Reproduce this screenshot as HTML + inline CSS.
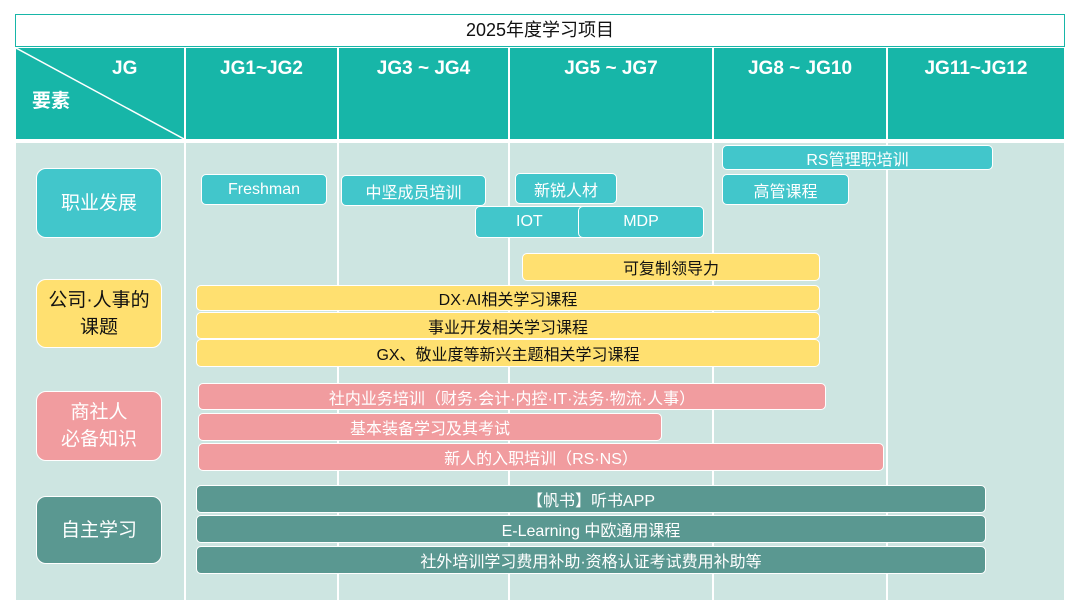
<!DOCTYPE html>
<html><head><meta charset="utf-8"><style>
*{margin:0;padding:0;box-sizing:border-box}
body{width:1075px;height:609px;background:#fff;position:relative;overflow:hidden;font-family:"Liberation Sans","Noto Sans CJK SC",sans-serif}
.a{position:absolute}
.b{position:absolute;display:flex;align-items:center;justify-content:center;border:1px solid #fff;border-radius:5px;font-size:16px;white-space:nowrap}
.t{background:#42c6cb;color:#fff}
.y{background:#ffe070;color:#111}
.p{background:#f19c9f;color:#fff}
.d{background:#5a9891;color:#fff}
.h{position:absolute;top:48px;height:91px;background:#17b6a8;color:#fff;font-weight:bold;font-size:19px;text-align:center;padding-top:10px}
.c{position:absolute;top:143px;height:457px;background:#cde5e1}
.lb{border-radius:10px;font-size:19px;text-align:center;white-space:normal;line-height:27px}
</style></head><body>
<div class="a" style="left:15px;top:14px;width:1050px;height:33px;border:1.5px solid #17b6a8;text-align:center;font-size:18px;line-height:31px;color:#111">2025年度学习项目</div>
<div class="h" style="left:16px;width:168px;padding:0"><svg class="a" style="left:0;top:0" width="168" height="91"><line x1="0" y1="0" x2="168" y2="91" stroke="#fff" stroke-width="1.5"/></svg><span class="a" style="left:96px;top:10px">JG</span><span class="a" style="left:16px;top:38px">要素</span></div>
<div class="h" style="left:186px;width:151px">JG1~JG2</div>
<div class="h" style="left:339px;width:169px">JG3 ~ JG4</div>
<div class="h" style="left:510px;width:202px">JG5 ~ JG7</div>
<div class="h" style="left:714px;width:172px">JG8 ~ JG10</div>
<div class="h" style="left:888px;width:176px">JG11~JG12</div>
<div class="c" style="left:16px;width:168px"></div>
<div class="c" style="left:186px;width:151px"></div>
<div class="c" style="left:339px;width:169px"></div>
<div class="c" style="left:510px;width:202px"></div>
<div class="c" style="left:714px;width:172px"></div>
<div class="c" style="left:888px;width:176px"></div>

<div class="b t lb" style="left:36px;top:168px;width:126px;height:70px">职业发展</div>
<div class="b y lb" style="left:36px;top:279px;width:126px;height:69px;color:#111">公司·人事的<br>课题</div>
<div class="b p lb" style="left:36px;top:391px;width:126px;height:70px">商社人<br>必备知识</div>
<div class="b d lb" style="left:36px;top:496px;width:126px;height:68px">自主学习</div>

<div class="b t" style="left:201px;top:174px;width:126px;height:31px">Freshman</div>
<div class="b t" style="left:341px;top:175px;width:145px;height:31px">中坚成员培训</div>
<div class="b t" style="left:515px;top:173px;width:102px;height:31px">新锐人材</div>
<div class="b t" style="left:475px;top:206px;width:116px;height:32px;justify-content:flex-start;padding-left:40px">IOT</div>
<div class="b t" style="left:578px;top:206px;width:126px;height:32px">MDP</div>
<div class="b t" style="left:722px;top:145px;width:271px;height:25px">RS管理职培训</div>
<div class="b t" style="left:722px;top:174px;width:127px;height:31px">高管课程</div>

<div class="b y" style="left:522px;top:253px;width:298px;height:28px">可复制领导力</div>
<div class="b y" style="left:196px;top:285px;width:624px;height:26px">DX·AI相关学习课程</div>
<div class="b y" style="left:196px;top:312px;width:624px;height:27px">事业开发相关学习课程</div>
<div class="b y" style="left:196px;top:339px;width:624px;height:28px">GX、敬业度等新兴主题相关学习课程</div>

<div class="b p" style="left:198px;top:383px;width:628px;height:27px">社内业务培训（财务·会计·内控·IT·法务·物流·人事）</div>
<div class="b p" style="left:198px;top:413px;width:464px;height:28px">基本装备学习及其考试</div>
<div class="b p" style="left:198px;top:443px;width:686px;height:28px">新人的入职培训（RS·NS）</div>

<div class="b d" style="left:196px;top:485px;width:790px;height:28px">【帆书】听书APP</div>
<div class="b d" style="left:196px;top:515px;width:790px;height:28px">E-Learning 中欧通用课程</div>
<div class="b d" style="left:196px;top:546px;width:790px;height:28px">社外培训学习费用补助·资格认证考试费用补助等</div>
</body></html>
